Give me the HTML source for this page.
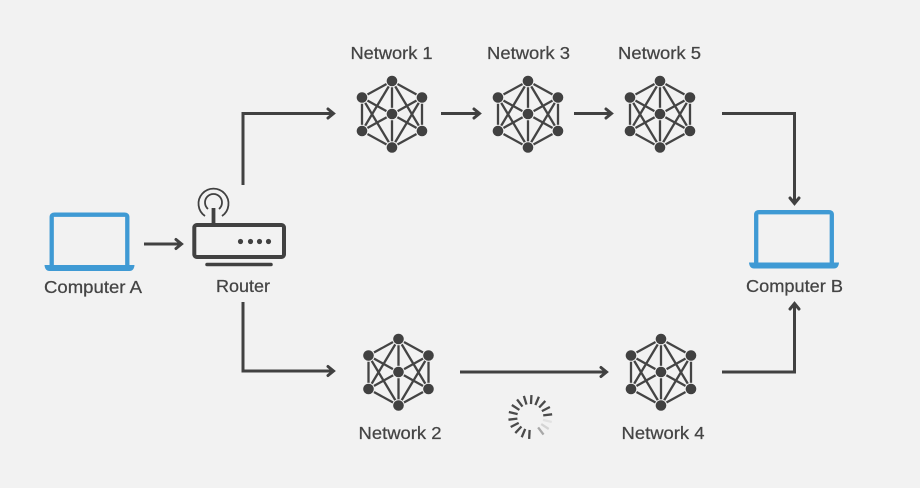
<!DOCTYPE html>
<html><head><meta charset="utf-8"><style>
html,body{margin:0;padding:0;background:#f2f2f2}
svg{display:block}
text{font-family:"Liberation Sans",sans-serif;font-size:17.500px;fill:#444;stroke:#444;stroke-width:.25;text-anchor:middle}
.l{fill:none;stroke:#414141;stroke-width:3}
.h{fill:none;stroke:#414141;stroke-width:3;stroke-linecap:round;stroke-linejoin:miter}
.b{fill:none;stroke:#3f9ad4;stroke-width:4.300}
.n line{stroke:#444;stroke-width:2.300}
.n circle{fill:#414141;stroke:#f2f2f2;stroke-width:2;paint-order:stroke}
.s line{stroke-width:2.300}
</style></head><body>
<svg width="920" height="488" viewBox="0 0 920 488" xmlns="http://www.w3.org/2000/svg">
<defs>
<g id="net" class="n">
<line x1="0" y1="-33" x2="30" y2="-16.5"/><line x1="30" y1="-16.5" x2="30" y2="17"/><line x1="30" y1="17" x2="0" y2="33.5"/><line x1="0" y1="33.5" x2="-30" y2="17"/><line x1="-30" y1="17" x2="-30" y2="-16.5"/><line x1="-30" y1="-16.5" x2="0" y2="-33"/>
<line x1="0" y1="-33" x2="0" y2="33.5"/><line x1="30" y1="-16.5" x2="-30" y2="17"/><line x1="-30" y1="-16.5" x2="30" y2="17"/>
<line x1="0" y1="-33" x2="30" y2="17"/><line x1="0" y1="-33" x2="-30" y2="17"/><line x1="0" y1="33.5" x2="30" y2="-16.5"/><line x1="0" y1="33.5" x2="-30" y2="-16.5"/>
<circle cx="0" cy="-33" r="5.300"/><circle cx="30" cy="-16.5" r="5.300"/><circle cx="30" cy="17" r="5.300"/><circle cx="0" cy="33.5" r="5.300"/><circle cx="-30" cy="17" r="5.300"/><circle cx="-30" cy="-16.5" r="5.300"/><circle cx="0" cy="0" r="5.300"/>
</g>
<g id="lap">
<path class="b" d="M-37.800 0V-50Q-37.800-52.300-35-52.300H35Q37.800-52.300 37.800-50V0"/>
<path d="M-45-2H45Q44.500 4 40 4H-40Q-44.500 4-45-2Z" fill="#3f9ad4"/>
</g>
</defs>
<rect width="920" height="488" fill="#f2f2f2"/>

<use href="#lap" x="89.500" y="267"/>
<use href="#lap" x="794" y="264.500"/>

<!-- router -->
<rect x="194.300" y="225" width="89.700" height="32" rx="2.500" fill="none" stroke="#414141" stroke-width="4"/>
<line x1="207" y1="264.500" x2="271" y2="264.500" stroke="#414141" stroke-width="3.500" stroke-linecap="round"/>
<line x1="213.500" y1="208" x2="213.500" y2="224" stroke="#414141" stroke-width="3.800"/>
<path d="M205 216A15 15 0 1 1 222 216" fill="none" stroke="#414141" stroke-width="1.800"/>
<path d="M208 209A8.500 8.500 0 1 1 219 209" fill="none" stroke="#414141" stroke-width="1.800"/>
<circle cx="240.500" cy="241.500" r="2.600" fill="#414141"/><circle cx="250.500" cy="241.500" r="2.600" fill="#414141"/><circle cx="259.500" cy="241.500" r="2.600" fill="#414141"/><circle cx="268.500" cy="241.500" r="2.600" fill="#414141"/>

<use href="#net" x="392" y="114"/>
<use href="#net" x="528" y="114"/>
<use href="#net" x="660" y="114"/>
<use href="#net" x="398.500" y="372"/>
<use href="#net" x="661" y="372"/>

<!-- connectors -->
<g>
<path class="l" d="M144 244H180"/><path class="h" d="M176 239.500L181.500 244L176 248.500"/>
<path class="l" d="M243 185V113.500H332"/><path class="h" d="M328 109L333.500 113.500L328 118"/>
<path class="l" d="M243 302V371H332"/><path class="h" d="M328 366.500L333.500 371L328 375.500"/>
<path class="l" d="M441 113.500H478"/><path class="h" d="M474 109L479.500 113.500L474 118"/>
<path class="l" d="M574 113.500H610"/><path class="h" d="M606 109L611.500 113.500L606 118"/>
<path class="l" d="M722 113.500H794.500V202"/><path class="h" d="M790 198L794.500 203.500L799 198"/>
<path class="l" d="M722 372H794.500V305"/><path class="h" d="M790 309L794.500 303.500L799 309"/>
<path class="l" d="M460 372H605"/><path class="h" d="M601 367.500L606.500 372L601 376.500"/>
</g>

<!-- spinner -->
<g class="s" transform="translate(530.300 417) rotate(3)">
<line x1="0" y1="-13" x2="0" y2="-22" stroke="#4a4a4a" transform="rotate(0)"/>
<line x1="0" y1="-13" x2="0" y2="-22" stroke="#4a4a4a" transform="rotate(20)"/>
<line x1="0" y1="-13" x2="0" y2="-22" stroke="#4a4a4a" transform="rotate(40)"/>
<line x1="0" y1="-13" x2="0" y2="-22" stroke="#4a4a4a" transform="rotate(60)"/>
<line x1="0" y1="-13" x2="0" y2="-22" stroke="#4a4a4a" transform="rotate(80)"/>
<line x1="0" y1="-13" x2="0" y2="-22" stroke="#e2e2e2" transform="rotate(100)"/>
<line x1="0" y1="-13" x2="0" y2="-22" stroke="#d4d4d4" transform="rotate(120)"/>
<line x1="0" y1="-13" x2="0" y2="-22" stroke="#a8a8a8" transform="rotate(140)"/>
<line x1="0" y1="-13" x2="0" y2="-22" stroke="#4a4a4a" transform="rotate(180)"/>
<line x1="0" y1="-13" x2="0" y2="-22" stroke="#4a4a4a" transform="rotate(200)"/>
<line x1="0" y1="-13" x2="0" y2="-22" stroke="#4a4a4a" transform="rotate(220)"/>
<line x1="0" y1="-13" x2="0" y2="-22" stroke="#4a4a4a" transform="rotate(240)"/>
<line x1="0" y1="-13" x2="0" y2="-22" stroke="#4a4a4a" transform="rotate(260)"/>
<line x1="0" y1="-13" x2="0" y2="-22" stroke="#4a4a4a" transform="rotate(280)"/>
<line x1="0" y1="-13" x2="0" y2="-22" stroke="#4a4a4a" transform="rotate(300)"/>
<line x1="0" y1="-13" x2="0" y2="-22" stroke="#4a4a4a" transform="rotate(320)"/>
<line x1="0" y1="-13" x2="0" y2="-22" stroke="#4a4a4a" transform="rotate(340)"/>
</g>

<!-- labels -->
<text x="93" y="293" textLength="98" lengthAdjust="spacingAndGlyphs">Computer A</text>
<text x="243" y="292" textLength="54" lengthAdjust="spacingAndGlyphs">Router</text>
<text x="794.500" y="292" textLength="97" lengthAdjust="spacingAndGlyphs">Computer B</text>
<text x="391.500" y="59" textLength="82" lengthAdjust="spacingAndGlyphs">Network 1</text>
<text x="528.500" y="59" textLength="83" lengthAdjust="spacingAndGlyphs">Network 3</text>
<text x="659.500" y="59" textLength="83" lengthAdjust="spacingAndGlyphs">Network 5</text>
<text x="400" y="439" textLength="83" lengthAdjust="spacingAndGlyphs">Network 2</text>
<text x="663" y="439" textLength="83" lengthAdjust="spacingAndGlyphs">Network 4</text>
</svg>
</body></html>
